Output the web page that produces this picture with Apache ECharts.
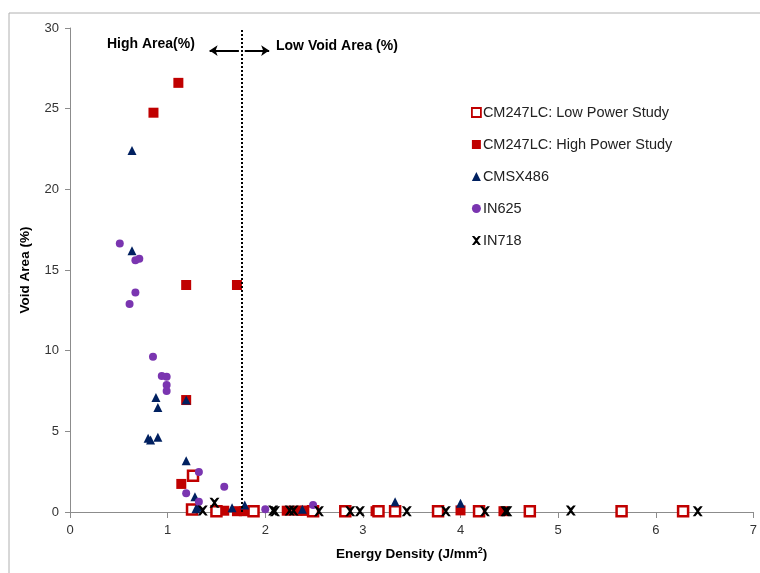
<!DOCTYPE html>
<html><head><meta charset="utf-8">
<script src="https://cdn.jsdelivr.net/npm/echarts@6/dist/echarts.min.js"></script>
<style>html,body{margin:0;padding:0;background:#fff}#c{width:760px;height:573px}</style>
</head><body><div id="c"></div>
<script>
const lowPower = [[1.26,2.25],[1.25,0.15],[1.50,0.05],[1.88,0.05],[2.49,0.05],[2.82,0.05],[3.16,0.05],[3.33,0.05],[3.77,0.05],[4.19,0.05],[4.71,0.05],[5.65,0.05],[6.28,0.05]];
const highPower = [[0.855,24.75],[1.11,26.6],[1.19,14.07],[1.71,14.07],[1.19,6.94],[1.14,1.74],[1.58,0.08],[1.71,0.05],[1.78,0.05],[2.22,0.08],[2.33,0.08],[2.41,0.08],[2.38,0.08],[3.13,0.05],[4.0,0.1],[4.44,0.05]];
const cmsx486 = [[0.635,22.4],[0.635,16.2],[0.88,7.1],[0.90,6.47],[1.19,6.94],[0.80,4.57],[0.825,4.46],[0.90,4.63],[1.19,3.18],[1.28,0.95],[1.29,0.2],[1.31,0.3],[1.66,0.27],[1.79,0.43],[2.38,0.17],[3.33,0.64],[4.0,0.54]];
const in625 = [[0.51,16.65],[0.67,15.6],[0.71,15.7],[0.67,13.6],[0.61,12.9],[0.85,9.63],[0.94,8.43],[0.99,8.39],[0.99,7.87],[0.99,7.5],[1.32,2.48],[1.19,1.16],[1.58,1.57],[1.32,0.64],[2.0,0.17],[2.49,0.43]];
const in718 = [[1.36,0.1],[1.48,0.58],[2.08,0.1],[2.10,0.05],[2.25,0.1],[2.29,0.1],[2.55,0.05],[2.87,0.05],[2.97,0.05],[3.45,0.05],[3.85,0.05],[4.25,0.05],[4.46,0.05],[4.48,0.05],[5.13,0.1],[6.43,0.05]];
const seriesNames = ['CM247LC: Low Power Study','CM247LC: High Power Study','CMSX486','IN625','IN718'];
const dividerX = 1.76;
const arrowY = 28.6;
const leftArrowEnd = 1.43;
const rightArrowEnd = 2.04;

const crossPath = 'path://M0,0 L2.6,0 L5,2.6 L7.4,0 L10,0 L6.3,5 L10,10 L7.4,10 L5,7.4 L2.6,10 L0,10 L3.7,5 Z';
const chart = echarts.init(document.getElementById('c'));
const font = 'Liberation Sans, Arial, sans-serif';
chart.setOption({
  animation:false,
  textStyle:{fontFamily:font},
  grid:{left:70,right:3,top:28,bottom:61},
  xAxis:{type:'value',min:0,max:7,interval:1,
    axisLine:{lineStyle:{color:'#8c8c8c'}},axisTick:{show:true,length:6,lineStyle:{color:'#8c8c8c'}},
    splitLine:{show:false},axisLabel:{color:'#333',fontSize:13,margin:12},
    name:'Energy Density (J/mm{sup|2})',nameLocation:'middle',nameGap:34,
    nameTextStyle:{fontWeight:'bold',fontSize:13.5,color:'#000',rich:{sup:{fontSize:9,verticalAlign:'top',fontWeight:'bold',padding:[0,0,8,0]}}}},
  yAxis:{type:'value',min:0,max:30,interval:5,
    axisLine:{show:true,lineStyle:{color:'#8c8c8c'}},axisTick:{show:true,length:5,lineStyle:{color:'#8c8c8c'}},
    splitLine:{show:false},axisLabel:{color:'#333',fontSize:13,margin:11},
    name:'Void Area (%)',nameLocation:'middle',nameGap:38,
    nameTextStyle:{fontWeight:'bold',fontSize:13.5,color:'#000'}},
  legend:{orient:'vertical',left:466,top:100,itemGap:17,itemWidth:9,itemHeight:9,
    textStyle:{fontSize:14.5,color:'#222',fontFamily:font,padding:[0,0,0,-3]},
    data:[
      {name:seriesNames[0],icon:'rect',itemStyle:{color:'#fff',borderColor:'#c00000',borderWidth:1.8}},
      {name:seriesNames[1],icon:'rect'},
      {name:seriesNames[2],icon:'triangle'},
      {name:seriesNames[3],icon:'circle'},
      {name:seriesNames[4],icon:crossPath}
    ]},
  graphic:[
    {type:'rect',shape:{x:9,y:13,width:760,height:570},style:{fill:'none',stroke:'#b0b0b0',lineWidth:1},silent:true,z:-1},
    {type:'text',left:107,top:37,style:{text:'High Area(%)',font:'bold 14px '+font,fill:'#000'}},
    {type:'text',left:276,top:39,style:{text:'Low Void Area (%)',font:'bold 14px '+font,fill:'#000'}}
  ],
  series:[
    {name:seriesNames[0],type:'scatter',data:lowPower,symbol:'rect',symbolSize:10,
      itemStyle:{color:'#fff',borderColor:'#c00000',borderWidth:2.5,opacity:1},z:3},
    {name:seriesNames[1],type:'scatter',data:highPower,symbol:'rect',symbolSize:10,
      itemStyle:{color:'#c00000',opacity:1},z:2},
    {name:seriesNames[2],type:'scatter',data:cmsx486,symbol:'triangle',symbolSize:9,
      itemStyle:{color:'#002060',opacity:1},z:4},
    {name:seriesNames[3],type:'scatter',data:in625,symbol:'circle',symbolSize:8,
      itemStyle:{color:'#7a35b0',opacity:1},z:4},
    {name:seriesNames[4],type:'scatter',data:in718,symbol:crossPath,symbolSize:10,
      itemStyle:{color:'#000',opacity:1},z:5,
      markLine:{silent:true,animation:false,label:{show:false},symbol:['none','arrow'],symbolSize:[8,8],
        lineStyle:{color:'#000',type:'solid',width:2,opacity:1},
        data:[[{coord:[dividerX-0.03,arrowY]},{coord:[leftArrowEnd,arrowY]}],
              [{coord:[dividerX+0.03,arrowY]},{coord:[rightArrowEnd,arrowY]}],
              [{coord:[dividerX,0],symbol:'none',lineStyle:{type:[2,2],width:2}},{coord:[dividerX,30],symbol:'none'}]]}}
  ]
});
</script></body></html>
